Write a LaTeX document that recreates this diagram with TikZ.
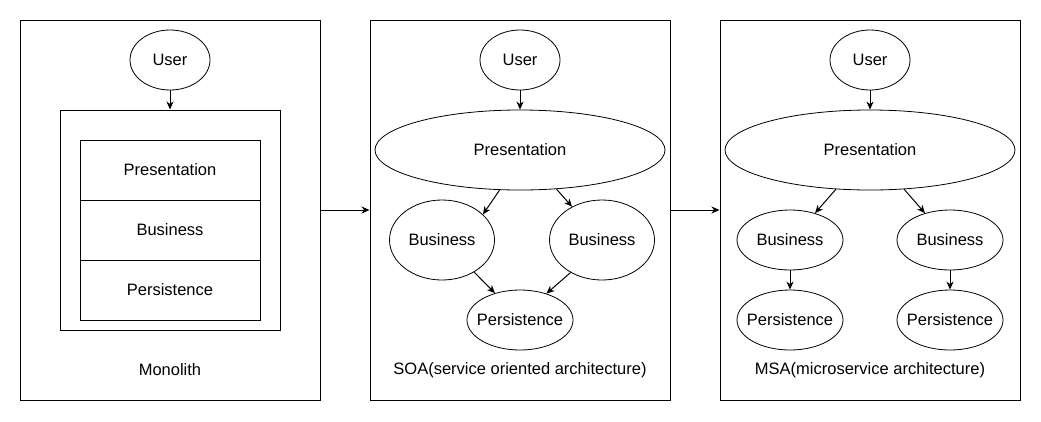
\documentclass[tikz,border=0pt]{standalone}
\usepackage{fontspec}
\setmainfont{Liberation Sans}
\usetikzlibrary{shapes.geometric,arrows.meta}
\begin{document}
\begin{tikzpicture}
[x=1pt,y=-1pt,
  lineDecorate/.style={-{Stealth[length=8pt,width=7pt,inset=2.5pt]},line width=1pt},%
  panelDecorate/.style={shape=rectangle,draw,line width=1pt,minimum width=300pt,minimum height=380pt},
  boxDecorate/.style={shape=rectangle,draw,line width=1pt,inner sep=0pt},
  ovalDecorate/.style={shape=ellipse,draw,line width=0.8pt,inner sep=0pt},
  font=\fontsize{16.5}{20}\selectfont]
\useasboundingbox (0,0) rectangle (1041,421);
%% panels and titles
\foreach \nodename/\x/\title in {
  mono/170/Monolith, soa/520/SOA(service oriented architecture),
  msa/870/MSA(microservice architecture)}
{
  \node (\nodename) at (\x,210) [panelDecorate] {};
  \node (\nodename title) at (\x,370) {\title};
  \node (\nodename user) at (\x,60) [ovalDecorate,minimum width=80pt,minimum height=60pt] {User};
}
%% monolith layers
\node (monoframe) at (170,220) [boxDecorate,minimum width=220pt,minimum height=220pt] {};
\foreach \nodename/\y/\text in {
  monopres/170/Presentation, monobiz/230/Business, monopers/290/Persistence}
{
  \node (\nodename) at (170,\y) [boxDecorate,minimum width=180pt,minimum height=60pt] {\text};
}
%% service nodes
\foreach \nodename/\x/\y/\w/\h/\text in {
  soapres/520/150/290/80/Presentation,
  soabizA/442/240/105/80/Business, soabizB/602/240/105/80/Business,
  soapers/520/320/106/60/Persistence,
  msapres/870/150/290/80/Presentation,
  msabizA/790/240/106/60/Business, msabizB/950/240/106/60/Business,
  msapersA/790/320/106/60/Persistence, msapersB/950/320/106/60/Persistence}
{
  \node (\nodename) at (\x,\y) [ovalDecorate,minimum width=\w pt,minimum height=\h pt,
    label={center:\text}] {};
}
%% edges or lines
\foreach \startnode/\endnode in {
  monouser.south/monoframe.north, soauser.south/soapres.north,
  msauser.south/msapres.north, mono.east/soa.west, soa.east/msa.west,
  soapres.243/soabizA.32, soapres.313/soabizB.132,
  soabizA.315/soapers.133, soabizB.226/soapers.45,
  msapres.229/msabizA.47, msapres.311/msabizB.133,
  msabizA.south/msapersA.north, msabizB.south/msapersB.north}
{
  \draw[lineDecorate] (\startnode) -- (\endnode);
}
\end{tikzpicture}
\end{document}
